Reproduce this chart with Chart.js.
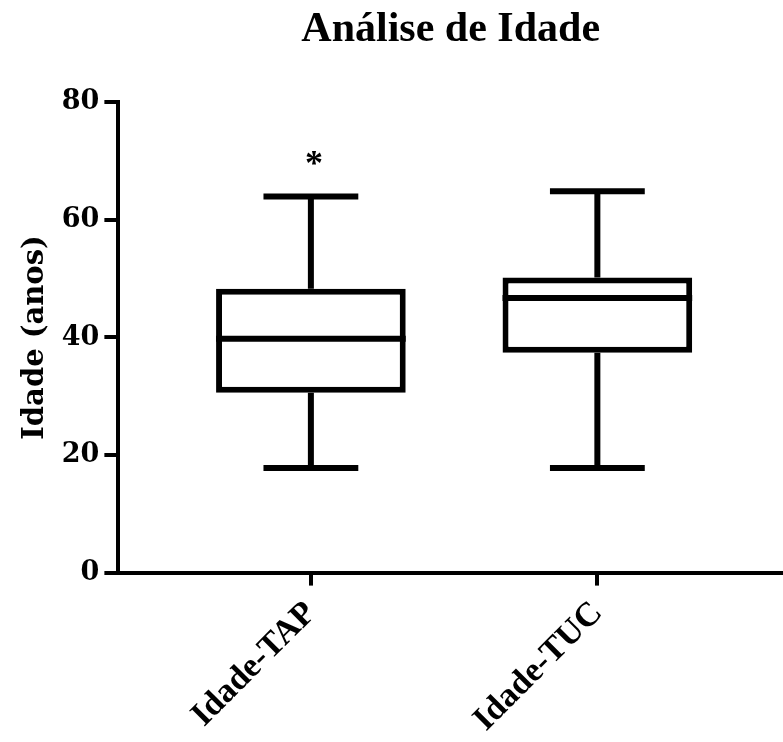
<!DOCTYPE html>
<html>
<head>
<meta charset="utf-8">
<script src="https://cdn.jsdelivr.net/npm/chart.js@4/dist/chart.umd.min.js"></script>
<style>
  body { margin: 0; background: #fff; }
  #wrap { width: 783px; height: 742px; }
</style>
</head>
<body>
<div id="wrap"><canvas id="ageChart" width="783" height="742"></canvas></div>
<script>
// Box plot values (anos)
const groups = ['Idade-TAP', 'Idade-TUC'];
const whiskerLow = [17.8, 17.8];
const lowerQuartile = [30.6, 37.4];
const medians = [39.8, 46.7];
const upperQuartile = [48.3, 50.2];
const whiskerHigh = [64.0, 64.9];
// significance mark above the TAP box
const markText = ['*', ''];
const markValue = [70.3, null];
const yTicks = [0, 20, 40, 60, 80];

const serif = 'Liberation Serif';
const tickFont = 'DejaVu Serif';

// whiskers, caps, medians and the asterisk, placed with the chart's own scales
const boxExtras = {
    id: 'boxExtras',
    afterDatasetsDraw(chart) {
        const ctx = chart.ctx;
        const y = chart.scales.y;
        const meta = chart.getDatasetMeta(0);
        ctx.save();
        ctx.strokeStyle = '#000';
        ctx.lineWidth = 6;
        ctx.lineCap = 'butt';
        meta.data.forEach(function(bar, i) {
            const cx = bar.x;
            const half = bar.width / 2;
            const cap = bar.width / 4;
            const yLo = y.getPixelForValue(whiskerLow[i]);
            const yHi = y.getPixelForValue(whiskerHigh[i]);
            const yQ1 = y.getPixelForValue(lowerQuartile[i]);
            const yQ3 = y.getPixelForValue(upperQuartile[i]);
            const yMed = y.getPixelForValue(medians[i]);
            ctx.beginPath();
            // whiskers
            ctx.moveTo(cx, yQ3); ctx.lineTo(cx, yHi);
            ctx.moveTo(cx, yQ1); ctx.lineTo(cx, yLo);
            // caps
            ctx.moveTo(cx - cap, yHi); ctx.lineTo(cx + cap, yHi);
            ctx.moveTo(cx - cap, yLo); ctx.lineTo(cx + cap, yLo);
            // median
            ctx.moveTo(cx - half, yMed); ctx.lineTo(cx + half, yMed);
            ctx.stroke();

            if (markText[i]) {
                ctx.fillStyle = '#000';
                ctx.font = 'bold 36px "' + serif + '"';
                ctx.textAlign = 'center';
                ctx.textBaseline = 'middle';
                ctx.fillText(markText[i], cx + 3, y.getPixelForValue(markValue[i]) + 6);
            }
        });
        ctx.restore();
    }
};

const ctx = document.getElementById('ageChart').getContext('2d');

new Chart(ctx, {
    type: 'bar',
    data: {
        datasets: [{
            label: 'Idade',
            data: groups.map(function(g, i) {
                return { x: i + 1, y: [lowerQuartile[i], upperQuartile[i]] };
            }),
            backgroundColor: '#fff',
            borderColor: '#000',
            borderWidth: 6,
            borderSkipped: false,
            barPercentage: 0.662,
            categoryPercentage: 1
        }]
    },
    options: {
        responsive: false,
        animation: false,
        layout: {
            padding: { left: 2, right: 0, top: 0, bottom: -6 }
        },
        plugins: {
            legend: { display: false },
            tooltip: { enabled: false },
            title: {
                display: true,
                text: 'Análise de Idade',
                color: '#000',
                fullSize: false,
                font: { family: serif, size: 42, weight: 'bold' },
                padding: { top: 5, bottom: 47 }
            }
        },
        scales: {
            x: {
                type: 'linear',
                offset: false,
                min: 0.328,
                max: 2.648,
                afterBuildTicks: function(axis) {
                    axis.ticks = groups.map(function(g, i) { return { value: i + 1 }; });
                },
                border: { display: true, color: '#000', width: 4 },
                grid: {
                    offset: false,
                    drawOnChartArea: false,
                    drawTicks: true,
                    tickLength: 13,
                    color: '#000',
                    lineWidth: 4
                },
                ticks: {
                    autoSkip: false,
                    minRotation: 45,
                    maxRotation: 45,
                    padding: 8,
                    color: '#000',
                    font: { family: serif, size: 34, weight: 'bold' },
                    callback: function(v) { return groups[v - 1]; }
                }
            },
            y: {
                min: 0,
                max: 80,
                afterBuildTicks: function(axis) {
                    axis.ticks = yTicks.map(function(v) { return { value: v }; });
                },
                border: { display: true, color: '#000', width: 4 },
                grid: {
                    drawOnChartArea: false,
                    drawTicks: true,
                    tickLength: 14,
                    color: '#000',
                    lineWidth: 4
                },
                ticks: {
                    padding: 5,
                    color: '#000',
                    font: { family: tickFont, size: 27, weight: 'bold' }
                },
                title: {
                    display: true,
                    text: 'Idade (anos)',
                    color: '#000',
                    font: { family: tickFont, size: 29, weight: 'bold' },
                    padding: { top: 16, bottom: 4 }
                }
            }
        }
    },
    plugins: [boxExtras]
});
</script>
</body>
</html>
